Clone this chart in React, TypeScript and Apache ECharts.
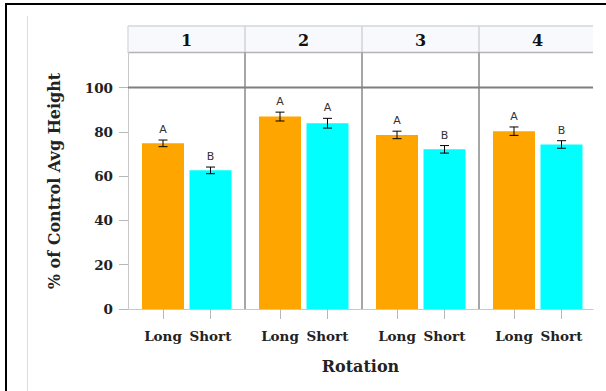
import React, { useEffect, useRef } from "react";
import * as echarts from "echarts";

const panels = ["1", "2", "3", "4"];
const categories = ["Long", "Short"];
const longValues = [74.8, 86.9, 78.6, 80.3];
const shortValues = [62.6, 83.9, 72.1, 74.3];
const longErrors = [1.5, 2.0, 1.7, 1.9];
const shortErrors = [1.5, 2.2, 1.7, 1.7];
const longLetters = ["A", "A", "A", "A"];
const shortLetters = ["B", "A", "B", "B"];
const yTicks = [0, 20, 40, 60, 80, 100];
const refValue = 100;
const yMax = 115.6;
const yTitle = "% of Control Avg Height";
const xTitle = "Rotation";

const LONG_COLOR = "#FFA500";
const SHORT_COLOR = "#00FFFF";
const SERIF = "DejaVu Serif";

const PLOT_LEFT = 128;
const PLOT_RIGHT = 593;
const PANEL_W = 117;
const TOP = 53;
const BOTTOM = 309;
const STRIP_TOP = 26;
const INSET = 11.25;
const DATA_W = 95;

export default function App() {
  const ref = useRef<HTMLDivElement>(null);
  useEffect(() => {
    if (!ref.current) return;
    const chart = echarts.init(ref.current, null, { renderer: "svg" });
    const grid: any[] = [];
    const xAxis: any[] = [];
    const yAxis: any[] = [];
    const series: any[] = [];
    const graphic: any[] = [];

    // outer decorations
    graphic.push({
      type: "rect",
      shape: { x: 6, y: 4, width: 800, height: 600 },
      style: { fill: "none", stroke: "#000", lineWidth: 2 },
      silent: true,
    });
    graphic.push({
      type: "line",
      shape: { x1: 27.5, y1: 16, x2: 27.5, y2: 400 },
      style: { stroke: "#dcdcdc", lineWidth: 1 },
      silent: true,
    });

    panels.forEach((p, i) => {
      const left = PLOT_LEFT + PANEL_W * i;
      const width = Math.min(PANEL_W, PLOT_RIGHT - left);
      // frame grid
      grid.push({ left, top: TOP, width, height: BOTTOM - TOP });
      // data grid
      grid.push({ left: left + INSET, top: TOP, width: DATA_W, height: BOTTOM - TOP });

      xAxis.push({
        gridIndex: 2 * i,
        type: "value",
        min: 0,
        max: 1,
        axisLine: { show: true, onZero: false, lineStyle: { color: "#c8c8c8", width: 1 } },
        axisTick: { show: false },
        axisLabel: { show: false },
        splitLine: { show: false },
      });
      yAxis.push({
        gridIndex: 2 * i,
        type: "value",
        min: 0,
        max: yMax,
        axisLine: {
          show: true,
          onZero: false,
          lineStyle: { color: i === 0 ? "#c8c8c8" : "#a6a6a6", width: i === 0 ? 1 : 2 },
        },
        axisTick: {
          show: i === 0,
          length: 9,
          customValues: yTicks,
          lineStyle: { color: "#b8b8b8" },
        },
        axisLabel: {
          show: i === 0,
          customValues: yTicks,
          margin: 15,
          fontFamily: SERIF,
          fontWeight: "bold",
          fontSize: 13.5,
          color: "#222",
        },
        splitLine: { show: false },
        name: i === 0 ? yTitle : "",
        nameLocation: "middle",
        nameGap: 66,
        nameTextStyle: { fontFamily: SERIF, fontWeight: "bold", fontSize: 16, color: "#222" },
      });
      xAxis.push({
        gridIndex: 2 * i + 1,
        type: "category",
        data: categories,
        axisLine: { show: false },
        axisTick: { show: true, alignWithLabel: true, length: 10, lineStyle: { color: "#b8b8b8" } },
        axisLabel: {
          interval: 0,
          hideOverlap: false,
          margin: 20,
          fontFamily: SERIF,
          fontWeight: "bold",
          fontSize: 13.5,
          color: "#222",
        },
        splitLine: { show: false },
      });
      yAxis.push({
        gridIndex: 2 * i + 1,
        type: "value",
        min: 0,
        max: yMax,
        show: false,
        splitLine: { show: false },
      });

      // reference line at 100 across the panel
      series.push({
        type: "line",
        xAxisIndex: 2 * i,
        yAxisIndex: 2 * i,
        data: [
          [0, refValue],
          [1, refValue],
        ],
        showSymbol: false,
        symbol: "none",
        silent: true,
        lineStyle: { color: "#7f7f7f", width: 2 },
      });

      series.push({
        type: "bar",
        xAxisIndex: 2 * i + 1,
        yAxisIndex: 2 * i + 1,
        barWidth: 42,
        data: [
          { value: longValues[i], itemStyle: { color: LONG_COLOR } },
          { value: shortValues[i], itemStyle: { color: SHORT_COLOR } },
        ],
      });

      const errs = [longErrors[i], shortErrors[i]];
      const letters = [longLetters[i], shortLetters[i]];
      series.push({
        type: "custom",
        xAxisIndex: 2 * i + 1,
        yAxisIndex: 2 * i + 1,
        z: 10,
        data: [
          [0, longValues[i], errs[0]],
          [1, shortValues[i], errs[1]],
        ],
        renderItem: (params: any, api: any) => {
          const x = api.value(0);
          const v = api.value(1);
          const e = api.value(2);
          const t = api.coord([x, v + e]);
          const b = api.coord([x, v - e]);
          const hw = 4.5;
          const st = { stroke: "#000", lineWidth: 1 };
          return {
            type: "group",
            children: [
              { type: "line", shape: { x1: t[0], y1: t[1], x2: b[0], y2: b[1] }, style: st },
              { type: "line", shape: { x1: t[0] - hw, y1: t[1], x2: t[0] + hw, y2: t[1] }, style: st },
              { type: "line", shape: { x1: b[0] - hw, y1: b[1], x2: b[0] + hw, y2: b[1] }, style: st },
              {
                type: "text",
                x: t[0],
                y: t[1] - 5,
                style: {
                  text: letters[params.dataIndex],
                  fill: "#333",
                  font: "11px 'DejaVu Sans'",
                  align: "center",
                  verticalAlign: "bottom",
                },
              },
            ],
          };
        },
      });

      // facet strip
      graphic.push({
        type: "rect",
        shape: { x: left, y: STRIP_TOP, width, height: TOP - STRIP_TOP },
        style: { fill: "#f8f9fd" },
        silent: true,
      });
      if (i > 0) {
        graphic.push({
          type: "line",
          shape: { x1: left, y1: STRIP_TOP, x2: left, y2: TOP },
          style: { stroke: "#dcdcdc", lineWidth: 2 },
          silent: true,
        });
      }
      graphic.push({
        type: "text",
        x: left + width / 2 + (i === panels.length - 1 ? (PANEL_W - width) / 2 : 0),
        y: (STRIP_TOP + TOP) / 2 + 1,
        style: {
          text: p,
          font: `bold 16px '${SERIF}'`,
          fill: "#111",
          align: "center",
          verticalAlign: "middle",
        },
        silent: true,
      });
    });

    graphic.push({
      type: "line",
      shape: { x1: PLOT_LEFT, y1: STRIP_TOP, x2: PLOT_RIGHT, y2: STRIP_TOP },
      style: { stroke: "#d6d6d6", lineWidth: 1.5 },
      silent: true,
    });
    graphic.push({
      type: "line",
      shape: { x1: PLOT_LEFT, y1: TOP - 0.5, x2: PLOT_RIGHT, y2: TOP - 0.5 },
      style: { stroke: "#b4b4b4", lineWidth: 1.5 },
      silent: true,
    });
    graphic.push({
      type: "line",
      shape: { x1: PLOT_LEFT, y1: STRIP_TOP, x2: PLOT_LEFT, y2: TOP },
      style: { stroke: "#dcdcdc", lineWidth: 1.5 },
      silent: true,
    });
    graphic.push({
      type: "text",
      x: (PLOT_LEFT + PLOT_RIGHT) / 2,
      y: 366,
      style: {
        text: xTitle,
        font: `bold 16px '${SERIF}'`,
        fill: "#222",
        align: "center",
        verticalAlign: "middle",
      },
      silent: true,
    });

    chart.setOption({
      animation: false,
      backgroundColor: "#fff",
      grid,
      xAxis,
      yAxis,
      series,
      graphic,
    });
    return () => chart.dispose();
  }, []);
  return (
    <div
      ref={ref}
      style={{ position: "fixed", left: 0, top: 0, width: 606, height: 391 }}
    />
  );
}
